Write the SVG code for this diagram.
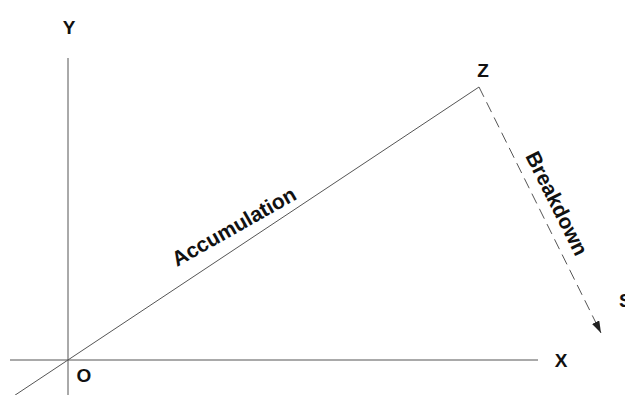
<svg xmlns="http://www.w3.org/2000/svg" width="625" height="395" viewBox="0 0 625 395">
<defs>
<style>
.ax{stroke:#555;stroke-width:1;fill:none}
.lbl{font-family:"Liberation Sans",Arial,sans-serif;font-weight:bold;font-size:19px;fill:#111;text-anchor:middle}
.tl{font-family:"Liberation Sans",Arial,sans-serif;font-weight:bold;fill:#111;text-anchor:start}
</style>
<marker id="ah" viewBox="0 0 12 8" refX="12" refY="4" markerWidth="12" markerHeight="8" markerUnits="userSpaceOnUse" orient="auto">
<path d="M0,0 L12,4 L0,8 Z" fill="#222"/>
</marker>
</defs>
<rect width="625" height="395" fill="#fff"/>
<g id="connectors">
<line class="ax" x1="68" y1="58" x2="68" y2="395"/>
<line class="ax" x1="10" y1="360" x2="538" y2="360"/>
<line class="ax" x1="13" y1="396.5" x2="479" y2="87"/>
<line class="ax" x1="479" y1="87" x2="601" y2="333" stroke-dasharray="11,6" marker-end="url(#ah)"/>
</g>
<g id="node-Y"><text class="lbl" x="69" y="34">Y</text></g>
<g id="node-Z"><text class="lbl" x="483" y="77">Z</text></g>
<g id="node-O"><text class="lbl" x="84" y="382">O</text></g>
<g id="node-X"><text class="lbl" x="561" y="367">X</text></g>
<g id="node-S"><text class="lbl" x="619" y="307" style="text-anchor:start">S</text></g>
<g id="label-accumulation"><text class="tl" font-size="21" transform="translate(177,267) rotate(-29.5)">Accumulation</text></g>
<g id="label-breakdown"><text class="tl" font-size="21" transform="translate(525,156) rotate(63.4)">Breakdown</text></g>
</svg>
